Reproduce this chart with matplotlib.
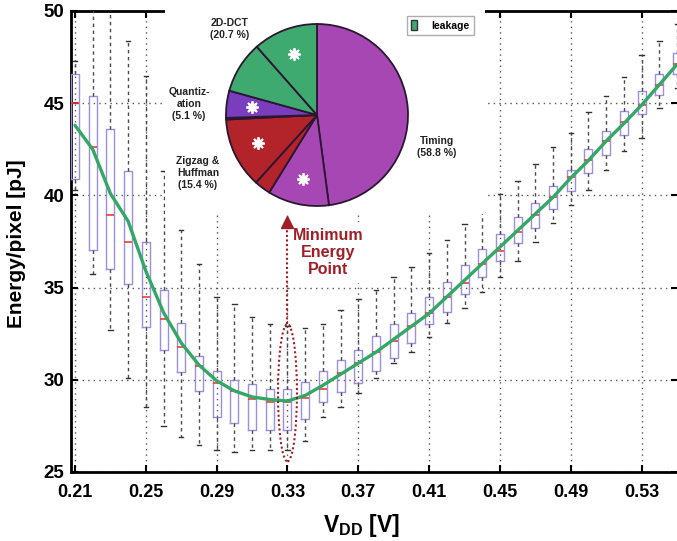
import matplotlib
matplotlib.use('Agg')
import matplotlib.pyplot as plt
from matplotlib.patches import Ellipse, Patch
from matplotlib.lines import Line2D
from matplotlib.legend_handler import HandlerTuple
import numpy as np

plt.rcParams['font.family'] = ['Liberation Sans', 'DejaVu Sans']
plt.rcParams['font.weight'] = 'bold'
plt.rcParams['mathtext.fontset'] = 'custom'
plt.rcParams['mathtext.rm'] = 'Liberation Sans'
plt.rcParams['mathtext.bf'] = 'Liberation Sans:bold'

# ---------------- data ----------------
vdd = [0.21, 0.22, 0.23, 0.24, 0.25, 0.26, 0.27, 0.28, 0.29, 0.30,
       0.31, 0.32, 0.33, 0.34, 0.35, 0.36, 0.37, 0.38, 0.39, 0.40,
       0.41, 0.42, 0.43, 0.44, 0.45, 0.46, 0.47, 0.48, 0.49, 0.50,
       0.51, 0.52, 0.53, 0.54, 0.55]

box_q3 = [46.6, 45.4, 43.6, 41.3, 37.5, 34.85, 33.1, 31.3, 30.5, 30.0,
          29.75, 29.5, 29.5, 29.9, 30.5, 31.1, 31.6, 32.35, 33.0, 33.6,
          34.5, 35.3, 36.2, 37.1, 37.9, 38.85, 39.6, 40.5, 41.4, 42.5,
          43.5, 44.6, 45.65, 46.6, 47.7]

box_q1 = [40.9, 37.05, 36.0, 35.2, 32.85, 31.6, 30.4, 29.4, 28.0, 27.65,
          27.3, 27.3, 27.3, 27.9, 28.8, 29.35, 29.8, 30.5, 31.2, 32.0,
          33.05, 33.65, 34.65, 35.55, 36.45, 37.4, 38.25, 39.25, 40.25, 41.2,
          42.2, 43.3, 44.4, 45.45, 46.6]

box_med = [45.0, 42.6, 38.95, 37.5, 34.5, 33.3, 31.8, 30.75, 29.85, 29.4,
           28.95, 28.8, 28.8, 29.0, 29.5, 30.35, 30.9, 31.5, 32.1, 32.9,
           33.6, 34.5, 35.25, 36.3, 37.0, 38.0, 38.95, 39.9, 41.0, 41.9,
           42.95, 44.0, 44.9, 46.0, 47.1]

whisk_hi = [47.3, 51.0, 51.0, 48.4, 46.5, 41.3, 38.1, 36.3, 34.5, 34.1,
            33.4, 33.0, 32.9, 32.8, 33.05, 33.8, 34.4, 34.85, 35.55, 36.1,
            36.9, 37.6, 38.45, 39.1, 40.05, 40.8, 41.7, 42.6, 43.4, 44.5,
            45.4, 46.4, 47.6, 48.35, 49.3]

whisk_lo = [40.3, 35.75, 32.7, 30.1, 28.5, 27.5, 26.9, 26.45, 26.2, 26.1,
            26.2, 26.2, 26.2, 26.7, 28.0, 28.5, 29.3, 30.1, 30.9, 31.5,
            32.3, 33.1, 33.9, 34.75, 35.55, 36.45, 37.45, 38.5, 39.5, 40.3,
            41.4, 42.4, 43.1, 44.75, 45.8]

mean_energy = [43.8, 42.5, 40.1, 38.6, 35.9, 33.65, 32.0, 30.8, 29.95, 29.4,
               29.07, 28.93, 28.85, 29.15, 29.7, 30.3, 30.9, 31.5, 32.2, 32.9,
               33.6, 34.5, 35.4, 36.3, 37.2, 38.1, 39.0, 39.9, 40.95, 41.9,
               42.95, 43.9, 44.9, 46.0, 47.1]

x_ticks = [0.21, 0.25, 0.29, 0.33, 0.37, 0.41, 0.45, 0.49, 0.53]
y_ticks = [25, 30, 35, 40, 45, 50]

# pie: clockwise from top
pie_values = [47.9, 10.9, 2.9, 12.5, 0.3, 4.8, 9.2, 11.5]
pie_leak = [False, True, False, True, False, True, False, True]
pie_group = ['Timing', 'Timing', 'Zigzag', 'Zigzag', 'Quant', 'Quant', 'DCT', 'DCT']
pie_texts = {'Timing': 'Timing\n(58.8 %)',
             'Zigzag': 'Zigzag &\nHuffman\n(15.4 %)',
             'Quant': 'Quantiz-\nation\n(5.1 %)',
             'DCT': '2D-DCT\n(20.7 %)'}

min_v = 0.33
min_arrow_from, min_arrow_to = 33.0, 38.9

# ---------------- style ----------------
col_timing = '#A747B3'
col_zigzag = '#B3242A'
col_quant = '#7A3DBE'
col_dct = '#3FAA70'
group_colors = {'Timing': col_timing, 'Zigzag': col_zigzag, 'Quant': col_quant, 'DCT': col_dct}
dark_red = '#A01E25'

W, H = 677, 541
fig = plt.figure(figsize=(W / 100, H / 100), dpi=100)
ax = fig.add_axes([71 / W, 69 / H, 607 / W, 461 / H])

stats = [dict(med=m, q1=a, q3=b, whislo=lo, whishi=hi, fliers=[])
         for m, a, b, lo, hi in zip(box_med, box_q1, box_q3, whisk_lo, whisk_hi)]
ax.bxp(stats, positions=vdd, widths=0.0045, capwidths=0.0025,
       showfliers=False, manage_ticks=False,
       boxprops=dict(color='#9A8FE0', linewidth=1.0),
       whiskerprops=dict(color='#4a4a4a', linewidth=1.0, linestyle=(0, (2.5, 2.5))),
       capprops=dict(color='#333333', linewidth=1.0),
       medianprops=dict(color='#E5413A', linewidth=1.2),
       zorder=3)

ax.plot(vdd, mean_energy, color='#33A865', linewidth=2.4, zorder=5,
        solid_capstyle='round')

ax.set_xlim(0.20774, 0.55056)
ax.set_ylim(25, 50)
ax.set_xticks(x_ticks)
ax.set_xticklabels([f'{v:.2f}' for v in x_ticks])
ax.set_yticks(y_ticks)
ax.grid(True, linestyle=(0, (1, 3)), color='#555555', linewidth=1.0)
ax.set_axisbelow(True)
ax.tick_params(axis='both', direction='in', length=5, width=1.5,
               top=True, right=True)
ax.tick_params(axis='x', labelsize=13, pad=8.5)
ax.tick_params(axis='y', labelsize=13.5, pad=5)
for lab in ax.get_xticklabels() + ax.get_yticklabels():
    lab.set_fontweight('bold')
for s in ax.spines.values():
    s.set_linewidth(2.0)

ax.set_ylabel('Energy/pixel [pJ]', fontsize=15, fontweight='bold')
ax.yaxis.set_label_coords(-0.074, 0.495)
ax.set_xlabel(r'$\mathbf{V_{DD}}$ [V]', fontsize=16.5, fontweight='bold')
ax.xaxis.set_label_coords(0.478, -0.087)

# minimum energy point annotation
ax.add_patch(Ellipse((min_v, 29.3), 0.0107, 7.45, fill=False, edgecolor=dark_red,
                     linestyle=(0, (1, 1.2)), linewidth=1.5, zorder=6))
ax.plot([min_v, min_v], [min_arrow_from, min_arrow_to - 0.35], color=dark_red,
        linestyle=(0, (1, 1.2)), linewidth=1.5, zorder=8)
ax.plot([min_v], [min_arrow_to - 0.35], marker='^', markersize=9, color=dark_red,
        zorder=8, linestyle='none')
ax.text(0.3528, 36.9, 'Minimum\nEnergy\nPoint', ha='center', va='center',
        color=dark_red, fontsize=11.5, fontweight='bold', linespacing=1.2,
        bbox=dict(facecolor='white', edgecolor='none', pad=4), zorder=6)

# ---------------- pie inset ----------------
px0, px1, py0, py1 = 165, 485, 0, 214
axp = fig.add_axes([px0 / W, (H - py1) / H, (px1 - px0) / W, (py1 - py0) / H])
axp.set_facecolor('white')
cx, cy, R = 317, H - 115, 91
wedges, _ = axp.pie(pie_values, colors=[group_colors[g] for g in pie_group],
                    startangle=90, counterclock=False, center=(cx, cy), radius=R,
                    frame=True,
                    wedgeprops=dict(edgecolor='#2a1630', linewidth=1.3))
axp.set_xlim(px0, px1)
axp.set_ylim(H - py1, H - py0)
axp.set_aspect('equal')
axp.set_xticks([])
axp.set_yticks([])
for s in axp.spines.values():
    s.set_visible(False)

for w, leak in zip(wedges, pie_leak):
    if leak:
        th = np.deg2rad((w.theta1 + w.theta2) / 2)
        sx, sy = cx + 0.72 * R * np.cos(th), cy + 0.72 * R * np.sin(th)
        axp.plot(sx, sy, marker='o', markersize=7, color='white', alpha=0.45,
                 markeredgewidth=0)
        axp.plot(sx, sy, marker=(8, 2, 0), markersize=9, color='white',
                 markeredgewidth=1.3)

label_pos = {'DCT': (230, 29), 'Quant': (189, 104), 'Zigzag': (198, 173),
             'Timing': (437, 147)}
for g, (lx, ly) in label_pos.items():
    axp.text(lx, H - ly, pie_texts[g], ha='center', va='center', fontsize=7.5,
             fontweight='bold', linespacing=1.3, color='#222222')

leg_handle = (Patch(facecolor=col_dct, edgecolor='#333333'),
              Line2D([], [], marker=(8, 2, 0), color='white', linestyle='none',
                     markersize=6, markeredgewidth=1.0))
fig.legend([leg_handle], ['leakage'], loc='upper left',
           bbox_to_anchor=(402 / W, 1 - 11 / H),
           handler_map={tuple: HandlerTuple(ndivide=None)},
           prop=dict(size=7.5, weight='bold'), frameon=True, fancybox=False,
           edgecolor='#999999', handlelength=1.5, handleheight=1.0,
           borderpad=0.4, handletextpad=0.4)

fig.savefig('out.png', dpi=100)
